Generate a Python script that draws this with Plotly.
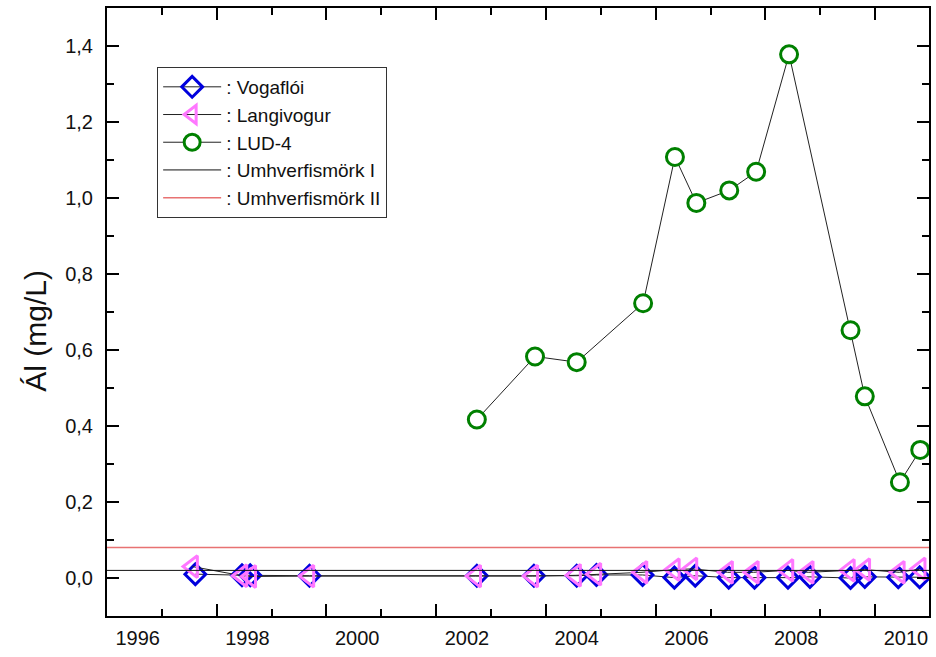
import plotly.graph_objects as go

# Aluminium concentration (mg/L) by sampling date (decimal year)
vog_years = [1997.05, 1997.90, 1998.05, 1999.13, 2002.18, 2003.22, 2004.00, 2004.36,
             2005.20, 2005.78, 2006.16, 2006.77, 2007.24, 2007.85, 2008.25, 2008.99,
             2009.25, 2009.86, 2010.25]
vog_al = [0.010, 0.007, 0.007, 0.006, 0.006, 0.006, 0.006, 0.008,
          0.008, 0.001, 0.006, 0.001, 0.001, 0.001, 0.003, 0.000,
          0.003, 0.002, 0.002]

lan_years = [1997.00, 1997.90, 1998.06, 1999.12, 2002.16, 2003.20, 2003.98, 2004.35,
             2005.19, 2005.78, 2006.10, 2006.75, 2007.22, 2007.85, 2008.22, 2008.97,
             2009.25, 2009.88, 2010.26]
lan_al = [0.030, 0.006, 0.004, 0.005, 0.005, 0.005, 0.007, 0.010,
          0.015, 0.022, 0.024, 0.015, 0.015, 0.020, 0.015, 0.020,
          0.022, 0.015, 0.024]

lud_years = [2002.18, 2003.24, 2004.00, 2005.21, 2005.79, 2006.18, 2006.78, 2007.27,
             2007.87, 2008.99, 2009.25, 2009.89, 2010.26]
lud_al = [0.417, 0.583, 0.568, 0.723, 1.108, 0.987, 1.020, 1.069,
          1.378, 0.652, 0.478, 0.252, 0.337]

# Environmental quality limits
limit_I = 0.02
limit_II = 0.08

x_range = [1995.44, 2010.42]
y_range = [-0.1, 1.5]
year_labels = [1996, 1998, 2000, 2002, 2004, 2006, 2008, 2010]

FONT = "Liberation Sans, Arial, sans-serif"
LINE = dict(color="#222222", width=1)

fig = go.Figure()

fig.add_trace(go.Scatter(
    x=vog_years, y=vog_al, mode="lines+markers", name=": Vogaflói",
    line=LINE,
    marker=dict(symbol="diamond-open", size=16, color="#0000dd",
                line=dict(width=3, color="#0000dd")),
))
fig.add_trace(go.Scatter(
    x=lan_years, y=lan_al, mode="lines+markers", name=": Langivogur",
    line=LINE,
    marker=dict(symbol="triangle-left-open", size=19, color="#ff77ff",
                line=dict(width=3, color="#ff77ff")),
))
fig.add_trace(go.Scatter(
    x=lud_years, y=lud_al, mode="lines+markers", name=": LUD-4",
    line=LINE,
    marker=dict(symbol="circle", size=17, color="white",
                line=dict(width=3, color="#008000")),
))
fig.add_trace(go.Scatter(
    x=x_range, y=[limit_I, limit_I], mode="lines", name=": Umhverfismörk I",
    line=dict(color="#111111", width=1), xaxis="x2",
))
fig.add_trace(go.Scatter(
    x=x_range, y=[limit_II, limit_II], mode="lines", name=": Umhverfismörk II",
    line=dict(color="#e87272", width=1.5), xaxis="x2",
))

fig.update_layout(
    width=936, height=657,
    margin=dict(l=107, r=5, t=8, b=41),
    paper_bgcolor="white", plot_bgcolor="white",
    separators=", ",
    font=dict(family=FONT, size=20, color="#111111"),
    showlegend=True,
    legend=dict(
        x=0.061, y=0.903, xanchor="left", yanchor="top",
        bgcolor="white", bordercolor="#333333", borderwidth=1,
        font=dict(size=19, family=FONT),
        traceorder="normal", itemwidth=58,
    ),
    # year labels
    xaxis=dict(
        range=x_range, tickmode="array", tickvals=year_labels,
        ticktext=[str(v) for v in year_labels],
        ticks="", showline=False, showgrid=False, zeroline=False,
        ticklabelstandoff=8,
    ),
    # frame and tick marks
    xaxis2=dict(
        overlaying="x", anchor="y", side="bottom", range=x_range,
        tickmode="linear", tick0=x_range[0], dtick=2,
        ticks="inside", ticklen=12, tickwidth=2, tickcolor="black",
        minor=dict(ticks="inside", ticklen=7, tickwidth=2, tickcolor="black",
                   tick0=x_range[0] + 1, dtick=2, showgrid=False),
        showticklabels=False, showline=True, linewidth=2, linecolor="black",
        mirror="ticks", showgrid=False, zeroline=False,
    ),
    yaxis=dict(
        range=y_range, tickmode="linear", tick0=0, dtick=0.2, tickformat=".1f",
        ticks="inside", ticklen=12, tickwidth=2, tickcolor="black",
        minor=dict(ticks="inside", ticklen=7, tickwidth=2, tickcolor="black",
                   dtick=0.1, showgrid=False),
        showline=True, linewidth=2, linecolor="black", mirror="ticks",
        showgrid=False, zeroline=False, ticklabelstandoff=8,
    ),
    annotations=[dict(
        text="Ál (mg/L)", textangle=-90, showarrow=False,
        xref="paper", yref="paper", x=-0.087, y=0.47,
        xanchor="center", yanchor="middle",
        font=dict(size=30, family=FONT, color="#111111"),
    )],
)

fig.write_html("out.html")
